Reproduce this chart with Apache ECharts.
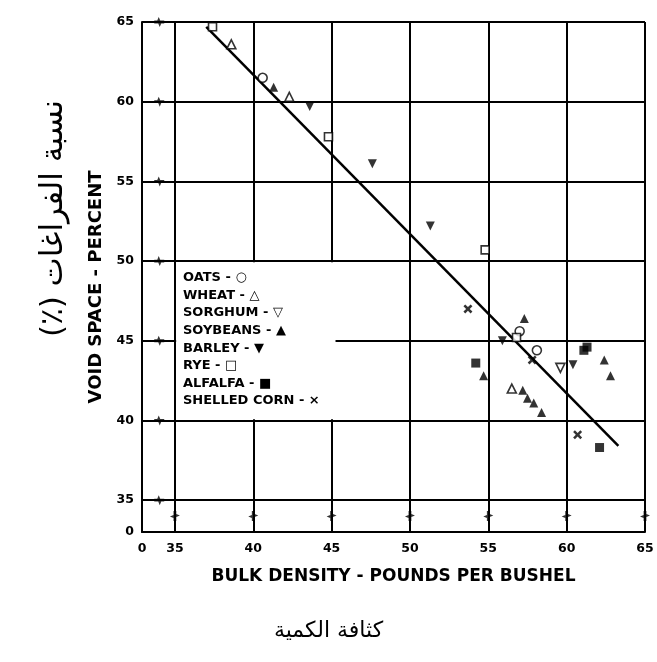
<!DOCTYPE html>
<html><head><meta charset="utf-8">
<script src="https://cdn.jsdelivr.net/npm/echarts@6/dist/echarts.min.js"></script>
<style>html,body{margin:0;padding:0;background:#fff}#c{width:657px;height:662px}</style>
</head><body><div id="c"></div>
<script>
// axis ticks (first value is the broken-axis origin, labelled "0")
const xTicks = [32.9, 35, 40, 45, 50, 55, 60, 65];
const yTicks = [33, 35, 40, 45, 50, 55, 60, 65];

// data: [bulk density lb/bu, void space %]
const oats = [[40.6, 61.5], [57.0, 45.6], [58.1, 44.4]];
const wheat = [[38.6, 63.6], [42.3, 60.3], [56.5, 42.0]];
const sorghum = [[59.6, 43.3]];
const soybeans = [[41.3, 60.9], [57.3, 46.4], [54.7, 42.8], [57.2, 41.9], [57.5, 41.4], [57.9, 41.1], [58.4, 40.5], [62.4, 43.8], [62.8, 42.8]];
const barley = [[43.6, 59.7], [47.6, 56.1], [51.3, 52.2], [55.9, 45.0], [60.4, 43.5]];
const rye = [[37.4, 64.7], [44.8, 57.8], [54.8, 50.7], [56.8, 45.2]];
const alfalfa = [[54.2, 43.6], [61.1, 44.4], [61.3, 44.6], [62.1, 38.3]];
const shelledCorn = [[53.7, 47.0], [57.8, 43.8], [60.7, 39.1]];
const fitLine = [[37.0, 64.7], [63.3, 38.4]];
const legendLines = ['OATS - ○', 'WHEAT - △', 'SORGHUM - ▽', 'SOYBEANS - ▲', 'BARLEY - ▼', 'RYE - □', 'ALFALFA - ■', 'SHELLED CORN - ×'];
const legendBox = [[35.08, 49.92], [45.25, 40.08]];
const breakAt = 34; // position of the axis-break marks

const crossPath = 'path://M0,2L2,0L5,3L8,0L10,2L7,5L10,8L8,10L5,7L2,10L0,8L3,5Z';
const zig = 'path://M0,3.6L3,3.6L4.5,0L6,3.6L10,3.6L10,6.4L7,6.4L5.5,10L4,6.4L0,6.4Z';
const F = 'DejaVu Sans';
function sc(name, data, symbol, open, rotate, size) {
  return {
    type: 'scatter', name, data, symbol, symbolSize: size || 9, symbolRotate: rotate || 0,
    itemStyle: open ? { color: '#fff', borderColor: '#000', borderWidth: 1.6 } : { color: '#000' },
    z: 4
  };
}
const breaksY = yTicks.filter(v => v >= 35).map(v => [breakAt, v]);
const breaksX = xTicks.filter(v => v >= 35).map(v => [v, breakAt]);

const chart = echarts.init(document.getElementById('c'), null, { renderer: 'canvas' });
chart.setOption({
  animation: false,
  backgroundColor: '#fff',
  grid: { left: 142, right: 12, top: 22, bottom: 130 },
  xAxis: {
    type: 'value', min: 32.9, max: 65,
    name: 'BULK DENSITY - POUNDS PER BUSHEL', nameLocation: 'middle', nameGap: 36,
    nameTextStyle: { fontFamily: F, fontWeight: 'bold', fontSize: 17, color: '#000' },
    axisLine: { lineStyle: { color: '#000', width: 2 } },
    axisTick: { show: false, customValues: xTicks },
    axisLabel: { customValues: xTicks, formatter: v => (v < 34 ? '0' : String(v)), margin: 10,
      fontFamily: F, fontWeight: 'bold', fontSize: 12.5, color: '#000' },
    splitLine: { show: true, lineStyle: { color: '#000', width: 2 } }
  },
  yAxis: {
    type: 'value', min: 33, max: 65,
    name: 'VOID SPACE - PERCENT', nameLocation: 'middle', nameRotate: 90, nameGap: 36,
    nameTextStyle: { fontFamily: F, fontWeight: 'bold', fontSize: 18, color: '#000', padding: [0, 20, 0, 0] },
    axisLine: { lineStyle: { color: '#000', width: 2 } },
    axisTick: { show: false, customValues: yTicks },
    axisLabel: { customValues: yTicks, formatter: v => (v < 34 ? '0' : String(v)), margin: 8,
      fontFamily: F, fontWeight: 'bold', fontSize: 12.5, color: '#000' },
    splitLine: { show: true, lineStyle: { color: '#000', width: 2 } }
  },
  graphic: [
    { type: 'text', left: 183, top: 269, z: 10,
      style: { text: legendLines.join('\n'), font: 'bold 13px "DejaVu Sans"', lineHeight: 17.6, fill: '#000' } },
    { type: 'text', left: 38, top: 100, rotation: Math.PI / 2, z: 10,
      style: { text: '\u2067نسبة الفراغات (٪)\u2069', font: '31px "DejaVu Sans"', fill: '#000' } },
    { type: 'text', left: 'center', top: 620, z: 10,
      style: { text: 'كثافة الكمية', font: '22px "DejaVu Sans"', fill: '#000' } }
  ],
  series: [
    {
      type: 'line', data: fitLine, showSymbol: false, z: 3,
      lineStyle: { color: '#000', width: 2.5 },
      markArea: { silent: true, itemStyle: { color: '#fff', opacity: 1 },
        data: [[{ xAxis: legendBox[0][0], yAxis: legendBox[0][1] }, { xAxis: legendBox[1][0], yAxis: legendBox[1][1] }]] }
    },
    sc('OATS', oats, 'circle', true),
    sc('WHEAT', wheat, 'triangle', true),
    sc('SORGHUM', sorghum, 'triangle', true, 180),
    sc('SOYBEANS', soybeans, 'triangle', false),
    sc('BARLEY', barley, 'triangle', false, 180),
    sc('RYE', rye, 'rect', true, 0, 8),
    sc('ALFALFA', alfalfa, 'rect', false, 0, 9),
    sc('SHELLED CORN', shelledCorn, crossPath, false, 0, 9),
    { type: 'scatter', data: breaksY, symbol: zig, symbolSize: [10, 10], silent: true,
      itemStyle: { color: '#000' }, z: 3 },
    { type: 'scatter', data: breaksX, symbol: zig, symbolSize: [10, 10], symbolRotate: 90, silent: true,
      itemStyle: { color: '#000' }, z: 3 }
  ]
});
</script></body></html>
